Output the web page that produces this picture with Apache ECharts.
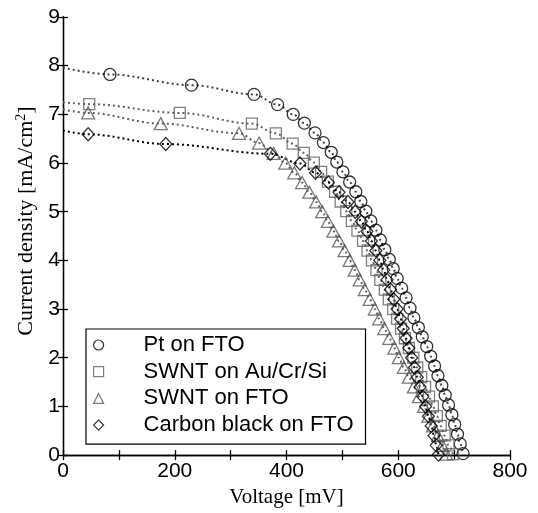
<!DOCTYPE html>
<html>
<head>
<meta charset="utf-8">
<script src="https://cdn.jsdelivr.net/npm/echarts@6/dist/echarts.min.js"></script>
<style>
html,body{margin:0;padding:0;background:#fff;}
#chart{width:538px;height:513px;}
</style>
</head>
<body>
<div id="chart"></div>
<script>
// ---- data (voltage in mV, current density in mA/cm^2) ----
const seriesNames = ['Pt on FTO', 'SWNT on Au/Cr/Si', 'SWNT on FTO', 'Carbon black on FTO'];

const V_Pt = [84,230,342,384,412,432,451,466,480,490,501,513,524,533,542,551,560,568,576,584,591,598,606,614,621,628,636,643,651,658,665,671,678,684,690,696,701,706,711,716];
const J_Pt = [7.82,7.60,7.41,7.20,7.00,6.82,6.62,6.42,6.22,6.02,5.82,5.61,5.41,5.21,5.01,4.81,4.62,4.42,4.22,4.02,3.83,3.63,3.43,3.23,3.02,2.82,2.62,2.43,2.23,2.03,1.83,1.63,1.43,1.23,1.03,0.83,0.63,0.43,0.23,0.03];

const V_Sq = [47,209,338,381,411,431,449,462,474,487,497,507,517,527,537,545,553,561,568,576,583,591,598,605,612,619,627,634,641,648,655,662,669,676,683,690,698];
const J_Sq = [7.21,7.03,6.81,6.61,6.40,6.21,6.01,5.82,5.62,5.41,5.21,5.01,4.81,4.61,4.40,4.20,4.00,3.80,3.60,3.40,3.20,3.00,2.80,2.60,2.40,2.20,2.00,1.80,1.60,1.40,1.20,1.00,0.80,0.60,0.40,0.20,0.02];

const V_Tr = [45,175,315,351,377,398,414,428,441,453,464,474,484,494,504,513,522,531,540,549,558,566,575,584,593,601,610,619,628,637,646,654,662,671,679,686];
const J_Tr = [7.03,6.81,6.61,6.41,6.20,6.00,5.80,5.60,5.40,5.20,5.00,4.80,4.60,4.40,4.20,4.00,3.80,3.60,3.40,3.20,3.00,2.80,2.60,2.40,2.20,2.00,1.80,1.60,1.40,1.20,1.00,0.80,0.60,0.40,0.20,0.02];

const V_Di = [45,184,371,424,452,475,494,510,523,534,544,552,560,567,574,580,586,592,598,604,609,614,619,624,629,634,639,644,649,654,659,664,668,672];
const J_Di = [6.59,6.39,6.19,5.99,5.80,5.60,5.40,5.20,5.00,4.80,4.60,4.40,4.20,4.00,3.80,3.60,3.40,3.20,3.00,2.80,2.60,2.40,2.20,2.00,1.80,1.60,1.40,1.20,1.00,0.80,0.60,0.40,0.20,0.01];

// fit curves start at V = 0
const J_fitStart = [7.96, 7.25, 7.10, 6.67];

const xTicks = [0, 200, 400, 600, 800];
const yTicks = [0, 1, 2, 3, 4, 5, 6, 7, 8, 9];

// ---- build ----
const sets = [[V_Pt, J_Pt], [V_Sq, J_Sq], [V_Tr, J_Tr], [V_Di, J_Di]];
const symbols = ['circle', 'rect', 'triangle', 'diamond'];
const symSizes = [12, 11, [13, 12], [12, 13]];
const markColors = ['#000000', '#606060', '#585858', '#000000'];
const lineColors = ['#404040', '#606060', '#606060', '#000000'];
const sans = "'Liberation Sans', Arial, sans-serif";
const serif = "'Liberation Serif', 'Times New Roman', serif";

const series = [];
sets.forEach((s, i) => {
  const pts = s[0].map((v, k) => [v, s[1][k]]);
  series.push({
    name: 'fit' + i,
    type: 'line',
    data: [[0, J_fitStart[i]]].concat(pts),
    smooth: 0.35,
    smoothMonotone: 'x',
    showSymbol: false,
    symbol: 'none',
    silent: true,
    lineStyle: { color: lineColors[i], width: 2, type: [2, 3] },
    z: 2
  });
});
sets.forEach((s, i) => {
  const pts = s[0].map((v, k) => [v, s[1][k]]);
  series.push({
    name: seriesNames[i],
    type: 'scatter',
    data: pts,
    symbol: symbols[i],
    symbolSize: symSizes[i],
    itemStyle: { color: 'rgba(255,255,255,0)', borderColor: markColors[i], borderWidth: 1.3 },
    z: 3
  });
});

const axisLineStyle = { color: '#000', width: 1.3 };
const chart = echarts.init(document.getElementById('chart'), null, { renderer: 'canvas' });
chart.setOption({
  animation: false,
  backgroundColor: '#fff',
  grid: { left: 63, right: 28, top: 17, bottom: 50, containLabel: false },
  legend: {
    orient: 'vertical',
    left: 86,
    top: 329,
    padding: [5, 12, 8, 7],
    itemGap: 4.7,
    itemWidth: 10,
    itemHeight: 10,
    backgroundColor: '#fff',
    borderColor: '#000',
    borderWidth: 1.2,
    borderRadius: 0,
    data: seriesNames.map((n, i) => ({
      name: n,
      icon: symbols[i],
      itemStyle: { color: 'rgba(255,255,255,0)', borderColor: markColors[i], borderWidth: 1.2 }
    })),
    textStyle: { fontFamily: sans, fontSize: 22, color: '#000', lineHeight: 22, padding: [0, 0, 0, 35] },
    selectedMode: false
  },
  xAxis: [{
    type: 'value', min: 0, max: 800, interval: 100, position: 'bottom',
    name: 'Voltage [mV]', nameLocation: 'middle', nameGap: 24,
    nameTextStyle: { fontFamily: serif, fontSize: 21, color: '#000', verticalAlign: 'top' },
    axisLine: { show: true, lineStyle: axisLineStyle },
    axisTick: { show: true, inside: true, length: 5, lineStyle: axisLineStyle },
    axisLabel: { margin: 6, fontFamily: sans, fontSize: 21, color: '#000',
      formatter: v => (xTicks.indexOf(v) >= 0 ? String(v) : '') },
    splitLine: { show: false }
  }, {
    type: 'value', min: 0, max: 800, interval: 100, position: 'top',
    axisLine: { show: true, lineStyle: axisLineStyle },
    axisTick: { show: true, inside: true, length: 5, lineStyle: axisLineStyle },
    axisLabel: { show: false }, splitLine: { show: false }
  }],
  yAxis: [{
    type: 'value', min: 0, max: 9, interval: 1, position: 'left',
    name: 'Current density [mA/cm{sup|2}]', nameLocation: 'middle', nameGap: 23, nameRotate: 90,
    nameTextStyle: { fontFamily: serif, fontSize: 22, color: '#000', padding: [0, 0, 0, 30],
      rich: { sup: { fontFamily: serif, fontSize: 14, color: '#000', padding: [0, 0, 10, 0] } } },
    axisLine: { show: true, lineStyle: axisLineStyle },
    axisTick: { show: true, inside: true, length: 5, lineStyle: axisLineStyle },
    axisLabel: { margin: 3, fontFamily: sans, fontSize: 21, color: '#000',
      formatter: v => (yTicks.indexOf(v) >= 0 ? String(v) : '') },
    splitLine: { show: false }
  }, {
    type: 'value', min: 0, max: 9, interval: 1, position: 'right',
    axisLine: { show: true, lineStyle: axisLineStyle },
    axisTick: { show: true, inside: true, length: 5, lineStyle: axisLineStyle },
    axisLabel: { show: false }, splitLine: { show: false }
  }],
  series: series
});
</script>
</body>
</html>
